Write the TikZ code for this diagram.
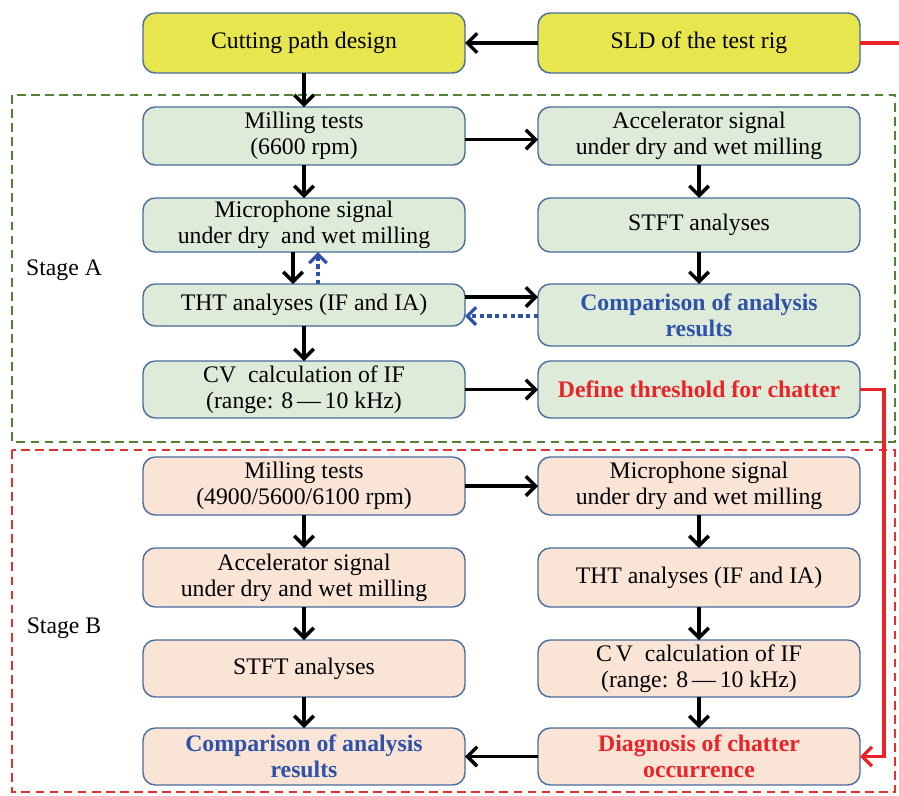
\documentclass[tikz,border=0pt]{standalone}
\usepackage{fontspec}
\setmainfont{Liberation Serif}
\usetikzlibrary{arrows.meta,positioning,calc}
\definecolor{bdr}{RGB}{72,108,155}
\definecolor{yelfill}{RGB}{232,230,78}
\definecolor{grnfill}{RGB}{222,235,217}
\definecolor{pchfill}{RGB}{250,228,214}
\definecolor{bluetxt}{RGB}{45,82,168}
\definecolor{redtxt}{RGB}{232,36,40}
\definecolor{grnfrm}{RGB}{84,130,53}
\definecolor{redfrm}{RGB}{228,48,48}
\tikzset{
  box/.style={rectangle,rounded corners=7pt,draw=bdr,line width=0.8pt,
    minimum width=6.44cm,minimum height=1.16cm,inner xsep=3pt,inner ysep=0pt,
    outer sep=0pt,font=\fontsize{13.5}{14.8}\selectfont,align=center,text=black},
  yblk/.style={box,fill=yelfill,minimum height=1.2cm},
  gblk/.style={box,fill=grnfill},
  oblk/.style={box,fill=pchfill},
  btxt/.style={font=\fontsize{13.5}{14.8}\selectfont\bfseries,text=bluetxt},
  rtxt/.style={font=\fontsize{13.5}{14.8}\selectfont\bfseries,text=redtxt},
  arr/.style={-{Straight Barb[length=5.5pt,width=11pt]},line width=2pt,color=black},
  darr/.style={-{Straight Barb[length=5pt,width=10pt]},line width=1.9pt,
    dash pattern=on 2.4pt off 2pt,color=bluetxt},
  rln/.style={line width=1.9pt,color=redtxt},
  rarr/.style={rln,-{Straight Barb[length=5.5pt,width=11pt]}},
  grpbox/.style={draw=#1,line width=0.8pt,dash pattern=on 5pt off 3pt},
  stg/.style={font=\fontsize{13.5}{14.8}\selectfont},
}
\begin{document}
\begin{tikzpicture}[node distance=0.66cm and 1.46cm]
  \useasboundingbox (0,0) rectangle (17.98,-15.9);

  % stage frames
  \draw[grpbox=grnfrm] (0.24,-1.9) rectangle (17.9,-8.84);
  \draw[grpbox=redfrm] (0.24,-9.0) rectangle (17.9,-15.84);
  \node[stg] (stgA) at (1.28,-5.4)  {Stage A};
  \node[stg] (stgB) at (1.28,-12.56) {Stage B};

  % top row
  \node[yblk] (cut) at (6.08,-0.86) {Cutting path design};
  \node[yblk,right=of cut] (sld) {SLD of the test rig};

  % stage A, left column
  \node[gblk,below=0.68cm of cut]  (mtA)  {Milling tests\\(6600 rpm)};
  \node[gblk,minimum height=1.08cm,below=of mtA] (micA) {Microphone signal\\under dry\ \ and wet milling};
  \node[gblk,minimum height=0.84cm,below=0.64cm of micA] (thtA) {THT analyses (IF and IA)};
  \node[gblk,minimum height=1.14cm,below=0.70cm of thtA] (cvA) {CV\ \ calculation of IF\\(range: 8\,\textemdash\,10 kHz)};

  % stage A, right column
  \node[gblk,right=of mtA]  (accA)  {Accelerator signal\\under dry and wet milling};
  \node[gblk,minimum height=1.08cm,right=of micA] (stftA) {STFT analyses};
  \node[gblk,minimum height=1.24cm,right=1.46cm of thtA.north east,anchor=north west,btxt] (cmpA)
    {Comparison of analysis\\results};
  \node[gblk,minimum height=1.14cm,right=of cvA,rtxt] (defA) {Define threshold for chatter};

  % stage B, left column
  \node[oblk,below=0.78cm of cvA] (mtB) {Milling tests\\(4900/5600/6100 rpm)};
  \node[oblk,minimum height=1.18cm,below=of mtB] (accB) {Accelerator signal\\under dry and wet milling};
  \node[oblk,minimum height=1.14cm,below=of accB] (stftB) {STFT analyses};
  \node[oblk,minimum height=1.14cm,below=0.62cm of stftB,btxt] (cmpB) {Comparison of analysis\\results};

  % stage B, right column
  \node[oblk,right=of mtB] (micB) {Microphone signal\\under dry and wet milling};
  \node[oblk,minimum height=1.18cm,right=of accB] (thtB) {THT analyses (IF and IA)};
  \node[oblk,minimum height=1.14cm,right=of stftB] (cvB) {C\,V\ \ calculation of IF\\(range: 8\,\textemdash\,10 kHz)};
  \node[oblk,minimum height=1.14cm,right=of cmpB,rtxt] (diag) {Diagnosis of chatter\\occurrence};

  % free ends of the red lines
  \coordinate (redend) at (17.98,-0.86);
  \coordinate (rtrn) at (17.68,0);

  % connectors
  \draw[arr] (sld) -- (cut);
  \draw[rln] (sld.east) -- (sld.east -| redend);
  \draw[arr] (cut) -- (mtA);
  \draw[arr] ([yshift=-2pt]mtA.east) -- ([yshift=-2pt]mtA.east -| accA.west);
  \draw[arr] (mtA) -- (micA);
  \draw[arr] (accA) -- (stftA);
  \draw[arr] (stftA) -- (stftA |- cmpA.north);
  \draw[arr] ([xshift=-0.22cm]micA.south) -- ([xshift=-0.22cm]thtA.north);
  \draw[darr] ([xshift=0.28cm]thtA.north) -- ([xshift=0.28cm]micA.south);
  \draw[arr] ([yshift=0.16cm]thtA.east) -- ([yshift=0.16cm]thtA.east -| cmpA.west);
  \draw[darr] ([yshift=-0.22cm]thtA.east -| cmpA.west) -- ([yshift=-0.22cm]thtA.east);
  \draw[arr] (thtA) -- (cvA);
  \draw[arr] (cvA) -- (defA);
  \draw[rarr] (defA.east) -- (defA.east -| rtrn) |- (diag.east);

  \draw[arr] (mtB) -- (micB);
  \foreach \a/\b in {mtB/accB,accB/stftB,stftB/cmpB,micB/thtB,thtB/cvB,cvB/diag}
    \draw[arr] (\a)--(\b);
  \draw[arr] (diag) -- (cmpB);
\end{tikzpicture}
\end{document}
